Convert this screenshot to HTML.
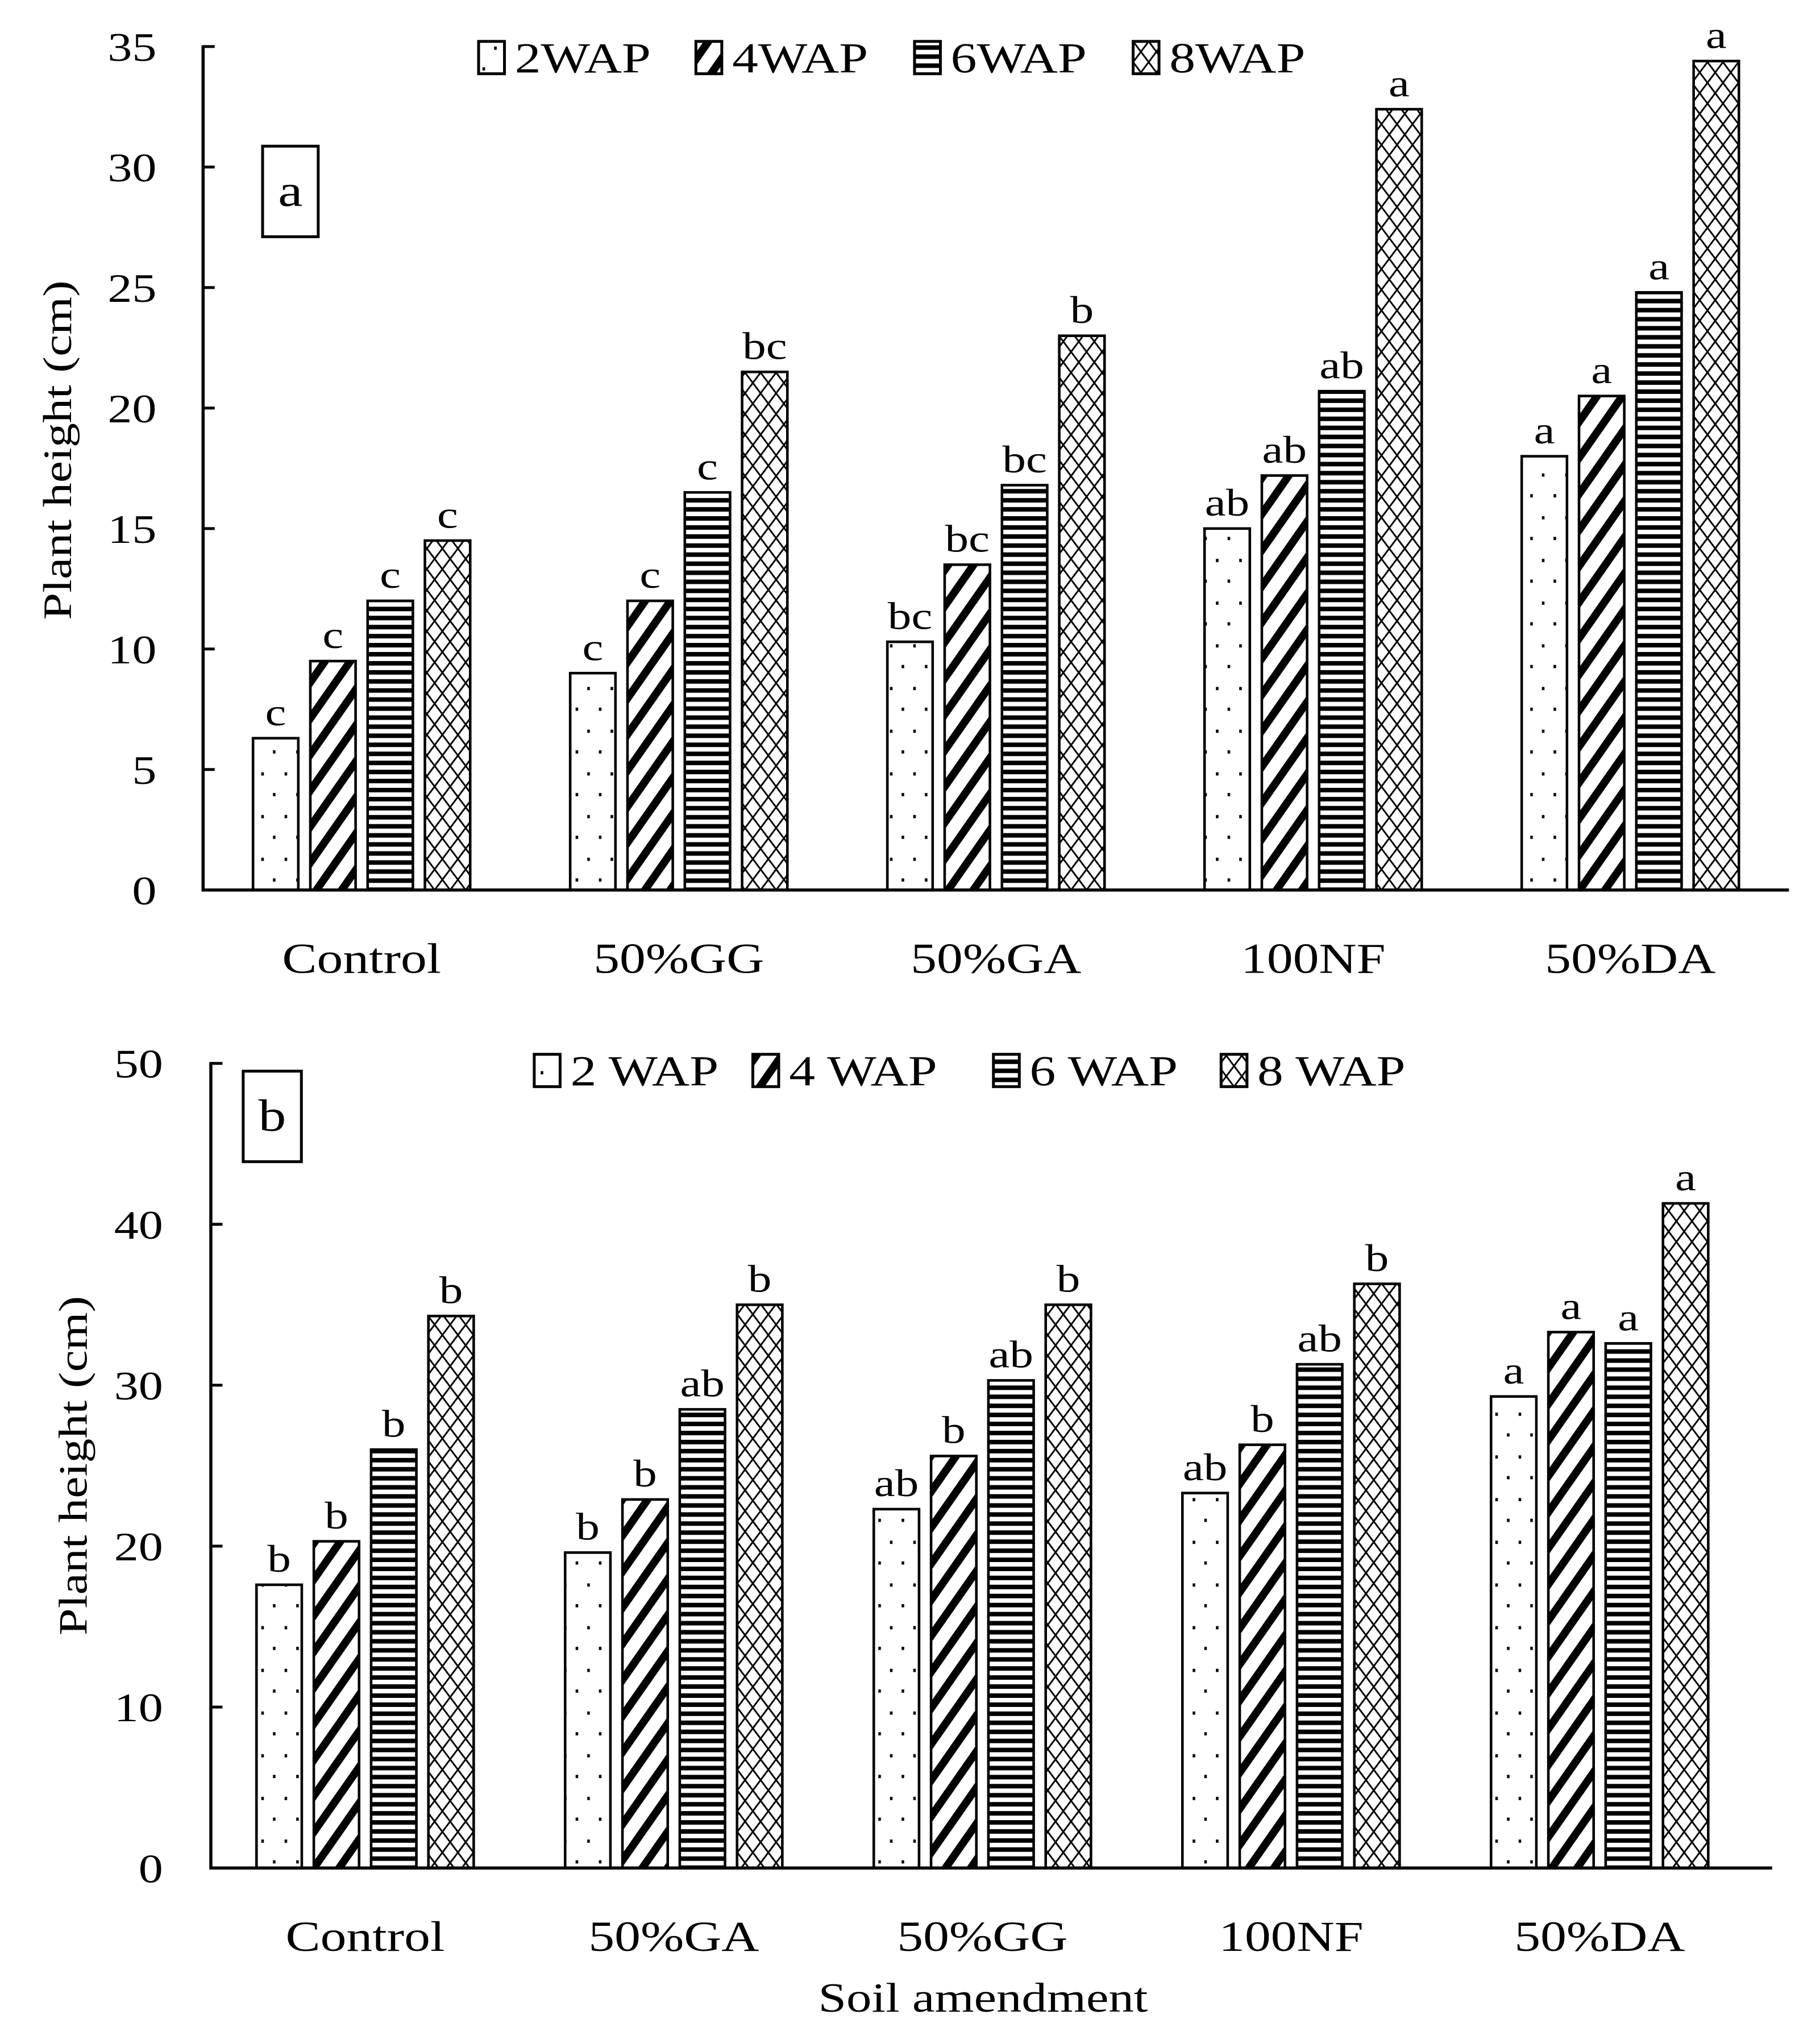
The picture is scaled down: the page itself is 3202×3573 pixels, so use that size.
<!DOCTYPE html>
<html><head><meta charset="utf-8"><style>html,body{margin:0;padding:0;background:#fff}svg{display:block}text{font-family:"Liberation Serif",serif;fill:#000}</style></head>
<body>
<svg id="chart" width="3202" height="3573" viewBox="0 0 1407 1570" preserveAspectRatio="none" xmlns="http://www.w3.org/2000/svg">
<defs>
<pattern id="p-dots" patternUnits="userSpaceOnUse" width="18" height="33"><rect width="18" height="33" fill="#fff"/><rect x="4" y="3" width="2" height="2.5" fill="#000"/><rect x="13" y="19" width="2" height="2.5" fill="#000"/></pattern>
<pattern id="p-diag" patternUnits="userSpaceOnUse" width="16" height="16" patternTransform="rotate(35)"><rect width="16" height="16" fill="#fff"/><rect width="6" height="16" fill="#000"/></pattern>
<pattern id="p-horiz" patternUnits="userSpaceOnUse" width="8" height="7"><rect width="8" height="7" fill="#fff"/><rect y="0" width="8" height="3.5" fill="#000"/></pattern>
<pattern id="p-diamond" patternUnits="userSpaceOnUse" width="12" height="16"><rect width="12" height="16" fill="#fff"/><path d="M0,0 L12,16 M12,0 L0,16" stroke="#000" stroke-width="1.3"/></pattern>
</defs>
<g id="ga"></g>
<g id="gb"></g>
</svg>
<script>
const catsA = ["Control","50%GG","50%GA","100NF","50%DA"];
const s2A = [6.3, 9.0, 10.3, 15.0, 18.0];
const s4A = [9.5, 12.0, 13.5, 17.2, 20.5];
const s6A = [12.0, 16.5, 16.8, 20.7, 24.8];
const s8A = [14.5, 21.5, 23.0, 32.4, 34.4];
const letA2 = ["c","c","bc","ab","a"];
const letA4 = ["c","c","bc","ab","a"];
const letA6 = ["c","c","bc","ab","a"];
const letA8 = ["c","bc","b","a","a"];
const ticksA = [0,5,10,15,20,25,30,35];

const catsB = ["Control","50%GA","50%GG","100NF","50%DA"];
const s2B = [17.6, 19.6, 22.3, 23.3, 29.3];
const s4B = [20.3, 22.9, 25.6, 26.3, 33.3];
const s6B = [26.0, 28.5, 30.3, 31.3, 32.6];
const s8B = [34.3, 35.0, 35.0, 36.3, 41.3];
const letB2 = ["b","b","ab","ab","a"];
const letB4 = ["b","b","b","b","a"];
const letB6 = ["b","ab","ab","ab","a"];
const letB8 = ["b","b","b","b","a"];
const ticksB = [0,10,20,30,40,50];

const NS="http://www.w3.org/2000/svg";
function mk(parent,tag,attrs,txt){const e=document.createElementNS(NS,tag);for(const k in attrs)e.setAttribute(k,attrs[k]);if(txt!==undefined)e.textContent=txt;parent.appendChild(e);
  if(tag==='text'){const w=e.getComputedTextLength();if(w>0){e.setAttribute('textLength',(w*1.22).toFixed(1));e.setAttribute('lengthAdjust','spacingAndGlyphs');}}
  return e;}
const fills=["url(#p-dots)","url(#p-diag)","url(#p-horiz)","url(#p-diamond)"];

function panel(g,cfg){
  const {x0,x1,xEnd,y0,y1,max,cats,series,lets,ticks,legX,legLabels,legY,boxLbl,box,ytX,ytY,tickLblX,catY}=cfg;
  const ys=v=>y0-(v/max)*(y0-y1);
  const step=(x1-x0)/cats.length;
  const xc=i=>x0+step*(i+0.5);
  ticks.forEach(t=>{
    const tl=mk(g,'line',{x1:x0,x2:x0+9,y1:ys(t),y2:ys(t),stroke:'#000','stroke-width':2.2});
    
    
    const tx=mk(g,'text',{x:tickLblX,y:ys(t)+11,'text-anchor':'end','font-size':31},String(t));
    
    
  });
  series.forEach((ser,s)=>{
    ser.forEach((v,i)=>{
      const bx=xc(i)-84+s*44.3;
      const r=mk(g,'rect',{x:bx,y:ys(v),width:35,height:ys(0)-ys(v),fill:fills[s],stroke:'#000','stroke-width':2});
      
      
      const l=mk(g,'text',{x:bx+17.5,y:ys(v)-10,'text-anchor':'middle','font-size':30},lets[s][i]);
      
      
    });
  });
  const ax=mk(g,'path',{d:`M${x0},${y1-1} L${x0},${y0} L${xEnd},${y0}`,fill:'none',stroke:'#000','stroke-width':2.4});
  
  
  cats.forEach((c,i)=>{
    const t=mk(g,'text',{x:xc(i),y:catY,'text-anchor':'middle','font-size':33},c);
    
    
  });
  legX.forEach((lx,s)=>{
    const b=mk(g,'rect',{x:lx,y:legY-13,width:20,height:25,fill:fills[s],stroke:'#000','stroke-width':2.2});
    
    
    const t=mk(g,'text',{x:lx+28,y:legY+11,'font-size':33},legLabels[s]);
    
    
  });
  const bb=mk(g,'rect',{x:box[0],y:box[1],width:box[2],height:box[3],fill:'#fff',stroke:'#000','stroke-width':2.2});
  
  
  const bt=mk(g,'text',{x:box[0]+box[2]/2,y:box[1]+box[3]/2+11,'text-anchor':'middle','font-size':35},boxLbl);
  
  
  const yt=mk(g,'text',{x:0,y:0,'text-anchor':'middle','font-size':31,transform:`translate(${ytX},${ytY}) rotate(-90)`},'Plant height (cm)');
  
  
}
panel(document.getElementById('ga'),{x0:157,x1:1383,xEnd:1383,y0:688,y1:36,max:35,cats:catsA,series:[s2A,s4A,s6A,s8A],lets:[letA2,letA4,letA6,letA8],ticks:ticksA,legX:[370,538,707,876],legLabels:["2WAP","4WAP","6WAP","8WAP"],legY:45,boxLbl:"a",box:[203,113,43,70],ytX:55,ytY:348,tickLblX:121,catY:752});
panel(document.getElementById('gb'),{x0:163,x1:1356,xEnd:1370,y0:1444,y1:822,max:50,cats:catsB,series:[s2B,s4B,s6B,s8B],lets:[letB2,letB4,letB6,letB8],ticks:ticksB,legX:[413,582,768,944],legLabels:["2 WAP","4 WAP","6 WAP","8 WAP"],legY:828,boxLbl:"b",box:[188,828,45,70],ytX:67,ytY:1133,tickLblX:126,catY:1508});
const xt=mk(document.getElementById('gb'),'text',{x:760,y:1555,'text-anchor':'middle','font-size':32},'Soil amendment');


</script>
</body></html>
